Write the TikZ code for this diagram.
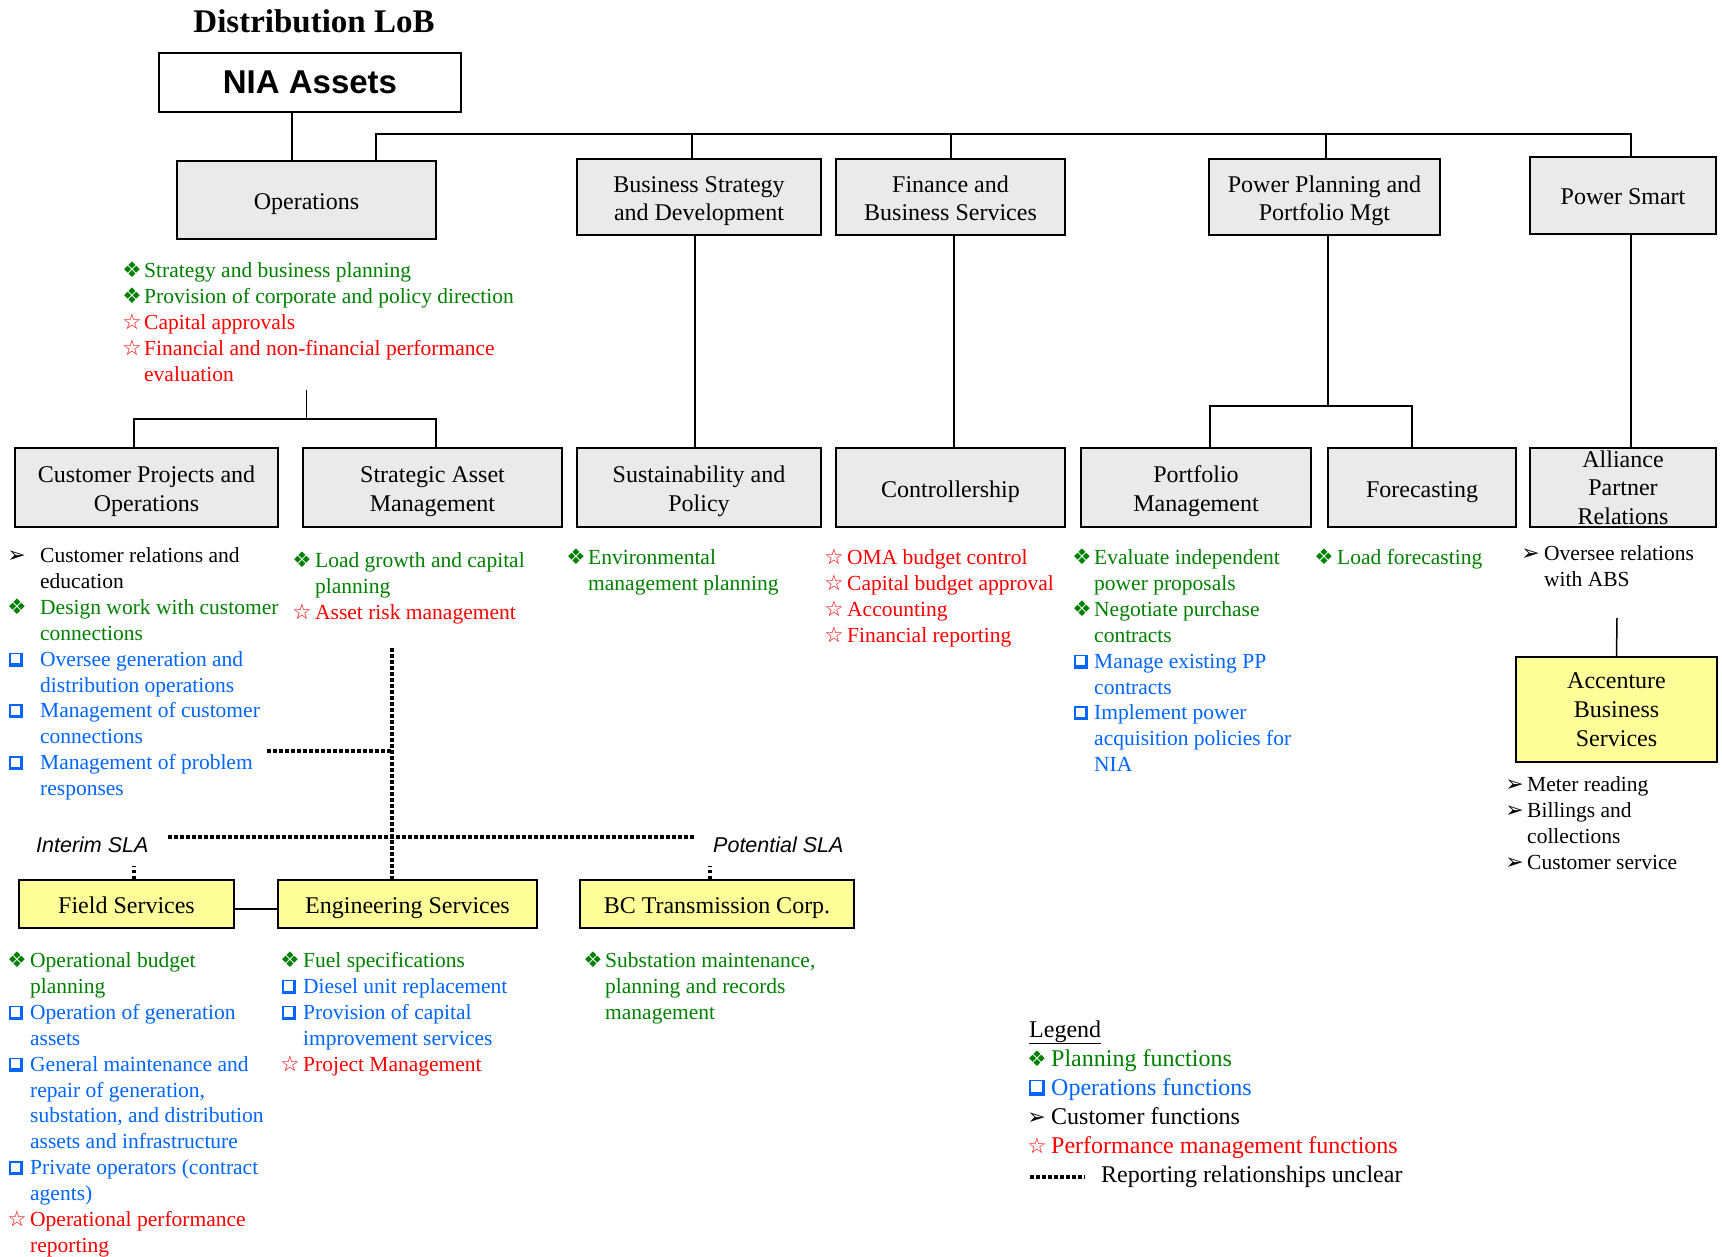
\documentclass[tikz,border=0pt]{standalone}
\usepackage{fontspec}
\setmainfont{Liberation Serif}
\newfontfamily\arialf{Liberation Sans}
\newfontfamily\symf{DejaVu Sans}
\usetikzlibrary{calc}
\definecolor{cg}{RGB}{0,128,0}
\definecolor{cb}{RGB}{0,102,255}
\definecolor{cr}{RGB}{255,0,0}
\definecolor{boxgray}{RGB}{234,234,234}
\definecolor{boxyel}{RGB}{255,255,153}
\newlength\symw
\newlength\sqs
\setlength\sqs{14pt}
\newcommand\sy[3]{\makebox[\symw][l]{\hspace{-1.8pt}\textcolor{#1}{\symf\fontsize{#3}{#3}\selectfont #2}}}
\newcommand\shsq{\makebox[\sqs][l]{%
  \rlap{\rule{\sqs}{3.2pt}}%
  \rlap{\raisebox{\dimexpr\sqs-1.5pt}{\rule{\sqs}{1.5pt}}}%
  \rlap{\rule{1.5pt}{\sqs}}%
  \rlap{\hspace{\dimexpr\sqs-3.2pt}\rule{3.2pt}{\sqs}}}}
\newcommand\SG{\sy{cg}{❖}{21.5}}
\newcommand\SB{\makebox[\symw][l]{\textcolor{cb}{\raisebox{-0.5pt}{\shsq}}}}
\newcommand\SC{\sy{black}{➢}{22}}
\newcommand\SR{\sy{cr}{☆}{21.5}}
\newcommand\G[1]{\textcolor{cg}{#1}}
\newcommand\B[1]{\textcolor{cb}{#1}}
\newcommand\R[1]{\textcolor{cr}{#1}}
\newcommand\bt{\rule{0pt}{25pt}}
\newcommand\bb{\rule[-6pt]{0pt}{6pt}}
\tikzset{
  boxbase/.style={draw, line width=1.5pt, align=center, inner sep=0pt, font=\fontsize{24}{28.5}\selectfont},
  struts/.style={execute at begin node={\bt}, execute at end node={\bb}},
  gbox/.style={boxbase, fill=boxgray},
  ybox/.style={boxbase, fill=boxyel},
  conn/.style={line width=1.5pt},
  rel/.style={line width=4pt, dash pattern=on 3.5pt off 2.5pt},
  lst/.style={anchor=base west, inner sep=0pt, font=\fontsize{21.5}{25.9}\selectfont},
}
\begin{document}
\begin{tikzpicture}[x=1pt, y=-1pt]
\useasboundingbox[fill=white] (0,0) rectangle (1722,1257);

% title
\node[inner sep=0pt, font=\bfseries\fontsize{33}{36}\selectfont] (title) at (314,21) {Distribution LoB};

% boxes
\node[boxbase, fill=white, minimum width=302pt, minimum height=59pt, font=\arialf\bfseries\fontsize{33}{36}\selectfont] (nia) at (310,82.5) {NIA Assets};
\node[gbox, struts, minimum width=259pt, minimum height=78pt] (ops) at (306.5,200) {Operations};
\node[gbox, minimum width=244pt, minimum height=76pt] (bsd) at (699,197) {\bt Business Strategy\\and Development\bb};
\node[gbox, minimum width=229pt, minimum height=76pt] (fbs) at (950.5,197) {\bt Finance and\\Business Services\bb};
\node[gbox, minimum width=231pt, minimum height=76pt] (pppm) at (1324.5,197) {\bt Power Planning and\\Portfolio Mgt\bb};
\node[gbox, struts, minimum width=186pt, minimum height=77pt] (ps) at (1623,195.5) {Power Smart};

\node[gbox, minimum width=263pt, minimum height=79pt] (cpo) at (146.5,487.5) {\bt Customer Projects and\\Operations\bb};
\node[gbox, minimum width=259pt, minimum height=79pt] (sam) at (432.5,487.5) {\bt Strategic Asset\\Management\bb};
\node[gbox, minimum width=244pt, minimum height=79pt] (sp) at (699,487.5) {\bt Sustainability and\\Policy\bb};
\node[gbox, struts, minimum width=229pt, minimum height=79pt] (ctrl) at (950.5,487.5) {Controllership};
\node[gbox, minimum width=230pt, minimum height=79pt] (pm) at (1196,487.5) {\bt Portfolio\\Management\bb};
\node[gbox, struts, minimum width=188pt, minimum height=79pt] (fc) at (1422,487.5) {Forecasting};
\node[gbox, minimum width=186pt, minimum height=79pt] (apr) at (1623,487.5) {};
\node[inner sep=0pt, align=center, font=\fontsize{24}{28.5}\selectfont] (aprT) at (1623,487.5) {Alliance\\Partner\\Relations};

\node[ybox, minimum width=201pt, minimum height=105pt, font=\fontsize{24}{29}\selectfont] (abs) at (1616.5,709.5) {Accenture\\Business\\Services};
\node[ybox, struts, minimum width=215pt, minimum height=48pt] (fs) at (126.5,904) {Field Services};
\node[ybox, struts, minimum width=259pt, minimum height=48pt] (es) at (407.5,904) {Engineering Services};
\node[ybox, struts, minimum width=274pt, minimum height=48pt] (bc) at (717,904) {BC Transmission Corp.};

% connectors
\coordinate (bus) at (0,134);
\draw[conn] ([xshift=-18pt]nia.south) -- ([xshift=-14.5pt]ops.north);
\draw[conn] ([xshift=69.5pt]ops.north) |- ([xshift=8pt]ps.north |- bus) -- ([xshift=8pt]ps.north);
\draw[conn] ([xshift=-7pt]bsd.north) -- ([xshift=-7pt]bsd.north |- bus);
\draw[conn] ([xshift=0.5pt]fbs.north) -- ([xshift=0.5pt]fbs.north |- bus);
\draw[conn] ([xshift=1.5pt]pppm.north) -- ([xshift=1.5pt]pppm.north |- bus);

\draw[conn] ([xshift=-4pt]bsd.south) -- ([xshift=-4pt]sp.north);
\draw[conn] ([xshift=3.5pt]fbs.south) -- ([xshift=3.5pt]ctrl.north);
\draw[conn] ([xshift=8pt]ps.south) -- ([xshift=8pt]apr.north);

\coordinate (ppj) at (1328,406);
\draw[conn] ([xshift=3.5pt]pppm.south) -- (ppj);
\draw[conn] ([xshift=14pt]pm.north) |- (ppj) -| ([xshift=-10pt]fc.north);

\coordinate (opst) at (306.5,390);
\coordinate (opsj) at (306.5,419);
\draw[conn] (opst) -- (opsj);
\draw[conn] ([xshift=-12.5pt]cpo.north) |- (opsj) -| ([xshift=3.5pt]sam.north);

\coordinate (absT) at (1617,618);
\draw[conn] (absT) -- (abs.north);
\draw[conn] ([yshift=-5pt]fs.east) -- ([yshift=-5pt]fs.east -| es.west);

% dotted reporting lines
\coordinate (dv) at (392,648);
\coordinate (dh1) at (267,751);
\coordinate (dh2) at (392,751);
\coordinate (sla1) at (168,837);
\coordinate (sla2) at (694,837);
\draw[rel] (dv) -- ([xshift=-15.5pt]es.north);
\draw[rel] (dh1) -- (dh2);
\draw[rel] (sla1) -- (sla2);
\draw[rel] ([xshift=7.5pt]fs.north) -- ++(0,-13);
\draw[rel] ([xshift=-7pt]bc.north) -- ++(0,-13);

\node[anchor=west, inner sep=0pt, font=\arialf\itshape\fontsize{21.5}{24}\selectfont] (interim) at (36,845) {Interim SLA};
\node[anchor=west, inner sep=0pt, font=\arialf\itshape\fontsize{21.5}{24}\selectfont] (potential) at (713,845) {Potential SLA};

% lists
\node[lst] (opsL) at (124,277.5) {\setlength\symw{20pt}\begin{tabular}[t]{@{}l@{}l@{}}
\SG & \G{Strategy and business planning}\\
\SG & \G{Provision of corporate and policy direction}\\
\SR & \R{Capital approvals}\\
\SR & \R{Financial and non-financial performance}\\
 & \R{evaluation}\\
\end{tabular}};

\node[lst] (cpoL) at (9,562.5) {\setlength\symw{31pt}\begin{tabular}[t]{@{}l@{}l@{}}
\SC & Customer relations and\\
 & education\\
\SG & \G{Design work with customer}\\
 & \G{connections}\\
\SB & \B{Oversee generation and}\\
 & \B{distribution operations}\\
\SB & \B{Management of customer}\\
 & \B{connections}\\
\SB & \B{Management of problem}\\
 & \B{responses}\\
\end{tabular}};

\node[lst] (samL) at (294,567.5) {\setlength\symw{21pt}\begin{tabular}[t]{@{}l@{}l@{}}
\SG & \G{Load growth and capital}\\
 & \G{planning}\\
\SR & \R{Asset risk management}\\
\end{tabular}};

\node[lst] (spL) at (568,564.5) {\setlength\symw{20pt}\begin{tabular}[t]{@{}l@{}l@{}}
\SG & \G{Environmental}\\
 & \G{management planning}\\
\end{tabular}};

\node[lst] (ctrlL) at (826,564.5) {\setlength\symw{21pt}\begin{tabular}[t]{@{}l@{}l@{}}
\SR & \R{OMA budget control}\\
\SR & \R{Capital budget approval}\\
\SR & \R{Accounting}\\
\SR & \R{Financial reporting}\\
\end{tabular}};

\node[lst] (pmL) at (1074,564.5) {\setlength\symw{20pt}\begin{tabular}[t]{@{}l@{}l@{}}
\SG & \G{Evaluate independent}\\
 & \G{power proposals}\\
\SG & \G{Negotiate purchase}\\
 & \G{contracts}\\
\SB & \B{Manage existing PP}\\
 & \B{contracts}\\
\SB & \B{Implement power}\\
 & \B{acquisition policies for}\\
 & \B{NIA}\\
\end{tabular}};

\node[lst] (fcL) at (1316,564.5) {\setlength\symw{21pt}\begin{tabular}[t]{@{}l@{}l@{}}
\SG & \G{Load forecasting}\\
\end{tabular}};

\node[lst] (aprL) at (1523,560.5) {\setlength\symw{21pt}\begin{tabular}[t]{@{}l@{}l@{}}
\SC & Oversee relations\\
 & with ABS\\
\end{tabular}};

\node[lst] (absL) at (1507,791.5) {\setlength\symw{20pt}\begin{tabular}[t]{@{}l@{}l@{}}
\SC & Meter reading\\
\SC & Billings and\\
 & collections\\
\SC & Customer service\\
\end{tabular}};

\node[lst] (fsL) at (9,967.5) {\setlength\symw{21pt}\begin{tabular}[t]{@{}l@{}l@{}}
\SG & \G{Operational budget}\\
 & \G{planning}\\
\SB & \B{Operation of generation}\\
 & \B{assets}\\
\SB & \B{General maintenance and}\\
 & \B{repair of generation,}\\
 & \B{substation, and distribution}\\
 & \B{assets and infrastructure}\\
\SB & \B{Private operators (contract}\\
 & \B{agents)}\\
\SR & \R{Operational performance}\\
 & \R{reporting}\\
\end{tabular}};

\node[lst] (esL) at (282,967.5) {\setlength\symw{21pt}\begin{tabular}[t]{@{}l@{}l@{}}
\SG & \G{Fuel specifications}\\
\SB & \B{Diesel unit replacement}\\
\SB & \B{Provision of capital}\\
 & \B{improvement services}\\
\SR & \R{Project Management}\\
\end{tabular}};

\node[lst] (bcL) at (585,967.5) {\setlength\symw{20pt}\begin{tabular}[t]{@{}l@{}l@{}}
\SG & \G{Substation maintenance,}\\
 & \G{planning and records}\\
 & \G{management}\\
\end{tabular}};

% legend
\node[lst, font=\fontsize{24}{29}\selectfont] (legend) at (1029,1037) {\setlength\symw{22pt}\setlength\sqs{16pt}\begin{tabular}[t]{@{}l@{}l@{}}
\multicolumn{2}{@{}l@{}}{\underline{Legend}}\\
\SG & \G{Planning functions}\\
\SB & \B{Operations functions}\\
\SC & Customer functions\\
\SR & \R{Performance management functions}\\
\multicolumn{2}{@{}l@{}}{\hspace{72pt}Reporting relationships unclear}\\
\end{tabular}};
\coordinate (lg1) at (1030,1177);
\coordinate (lg2) at (1085,1177);
\draw[rel] (lg1) -- (lg2);
\end{tikzpicture}
\end{document}
